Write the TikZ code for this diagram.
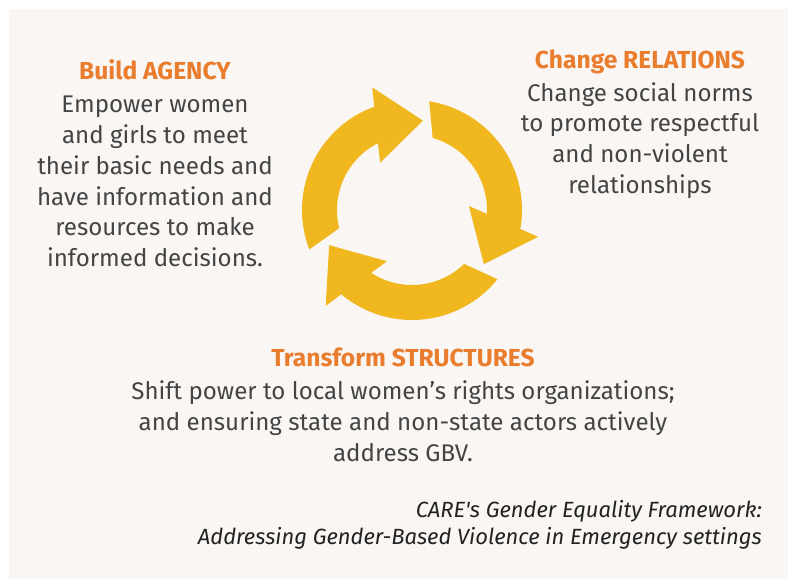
\documentclass[tikz,border=0pt]{standalone}
\usepackage{fontspec}
\setmainfont{Fira Sans}
\usetikzlibrary{positioning}
\definecolor{panelbg}{HTML}{F9F6F3}
\definecolor{cyclegold}{HTML}{F0B81E}
\definecolor{headorange}{HTML}{E97D2D}
\definecolor{bodygrey}{HTML}{444444}
\definecolor{notegrey}{HTML}{222222}
\tikzset{
  heading/.style={font=\fontsize{24.6}{28}\selectfont\bfseries, text=headorange, inner sep=0pt, anchor=base},
  blurb/.style={font=\fontsize{24.1}{30.8}\selectfont, text=bodygrey, align=center, inner sep=0pt},
  note/.style={font=\fontsize{22}{27}\selectfont\itshape, text=notegrey, align=right, inner sep=0pt},
  cyclearrow/.style={fill=cyclegold},
}
\begin{document}
\begin{tikzpicture}[x=1pt, y=1pt, node distance=11pt]
  \useasboundingbox (0,0) rectangle (788,581);
  \fill[white] (0,0) rectangle (788,581);
  \fill[panelbg] (9,2) rectangle (788,572);
  % the three arrows of the cycle
  \foreach \turn in {0,-120,-240}{
    \fill[cyclearrow, shift={(412,371)}, rotate=\turn]
      (201:110) -- (194:75) arc[start angle=194, end angle=117, radius=75]
      -- (124:57) -- (83:90) -- (108:129) -- (110:110)
      arc[start angle=110, end angle=201, radius=110] -- cycle;
  }
  % agency
  \node[heading] (agency) at (155,501) {Build AGENCY};
  \node[blurb, below=of agency.base] (agencytext) {\strut Empower women\\and girls to meet\\their basic needs and\\have information and\\resources to make\\informed decisions.};
  % relations
  \node[heading] (relations) at (640,512.7) {Change RELATIONS};
  \node[blurb, below=of relations.base] (relationstext) {\strut Change social norms\\to promote respectful\\and non-violent\\relationships};
  % structures
  \node[heading] (structures) at (403,214) {Transform STRUCTURES};
  \node[blurb, below=of structures.base] (structurestext) {\strut Shift power to local women’s rights organizations;\\and ensuring state and non-state actors actively\\address GBV.};
  % source
  \node[note, anchor=north east] (source) at (762,82.9) {\strut CARE\textquotesingle s Gender Equality Framework:\\Addressing Gender-Based Violence in Emergency settings};
\end{tikzpicture}
\end{document}
